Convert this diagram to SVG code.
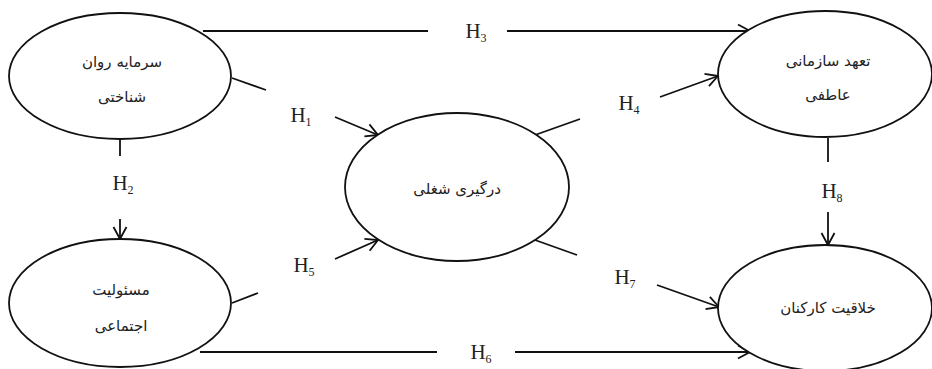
<svg xmlns="http://www.w3.org/2000/svg" width="932" height="369" viewBox="0 0 932 369">
<style>
.node{fill:#fff;stroke:#111;stroke-width:1.8}
.fa{font-family:"DejaVu Sans","Noto Sans",sans-serif;font-size:15px;fill:#222;text-anchor:middle;direction:rtl}
.h{font-family:"Liberation Serif","Times New Roman",serif;font-size:21px;fill:#222;text-anchor:middle}
.sub{font-size:12px}
.c{stroke:#111;stroke-width:1.8;fill:none}
.a{marker-end:url(#arr)}
</style>
<defs>
<marker id="arr" markerUnits="userSpaceOnUse" markerWidth="16" markerHeight="16" refX="13" refY="8" orient="auto">
<path d="M1,1.5 L13,8 L1,14.5" fill="none" stroke="#111" stroke-width="1.8"/>
</marker>
</defs>
<rect width="932" height="369" fill="#fff"/>
<g id="connectors">
<line class="c" x1="203" y1="31" x2="428" y2="31"/>
<line class="c a" x1="507" y1="31" x2="750" y2="31"/>
<line class="c" x1="232" y1="78" x2="266" y2="90"/>
<line class="c a" x1="335" y1="117" x2="378" y2="135"/>
<line class="c" x1="120" y1="140" x2="120" y2="156"/>
<line class="c a" x1="120" y1="219" x2="120" y2="239"/>
<line class="c" x1="535" y1="135" x2="580" y2="119"/>
<line class="c a" x1="660" y1="97" x2="718" y2="76"/>
<line class="c" x1="232" y1="303" x2="258" y2="293"/>
<line class="c a" x1="335" y1="259" x2="378" y2="240"/>
<line class="c" x1="200" y1="352" x2="437" y2="352"/>
<line class="c a" x1="515" y1="352" x2="750" y2="352"/>
<line class="c" x1="535" y1="240" x2="577" y2="255"/>
<line class="c a" x1="657" y1="285" x2="719" y2="307"/>
<line class="c" x1="828" y1="138" x2="828" y2="162"/>
<line class="c a" x1="828" y1="212" x2="828" y2="245"/>
<text class="h" x="476" y="38">H<tspan class="sub" dy="4">3</tspan></text>
<text class="h" x="301" y="122">H<tspan class="sub" dy="4">1</tspan></text>
<text class="h" x="123" y="190">H<tspan class="sub" dy="4">2</tspan></text>
<text class="h" x="629" y="110">H<tspan class="sub" dy="4">4</tspan></text>
<text class="h" x="304" y="272">H<tspan class="sub" dy="4">5</tspan></text>
<text class="h" x="481" y="359">H<tspan class="sub" dy="4">6</tspan></text>
<text class="h" x="625" y="284">H<tspan class="sub" dy="4">7</tspan></text>
<text class="h" x="832" y="198">H<tspan class="sub" dy="4">8</tspan></text>
</g>
<g id="n1">
<ellipse class="node" cx="120" cy="76" rx="111" ry="63"/>
<text class="fa" x="122" y="67">سرمایه روان</text>
<text class="fa" x="122" y="102">شناختی</text>
</g>
<g id="n2">
<ellipse class="node" cx="825" cy="74" rx="107" ry="63"/>
<text class="fa" x="828" y="66">تعهد سازمانی</text>
<text class="fa" x="828" y="100">عاطفی</text>
</g>
<g id="n3">
<ellipse class="node" cx="457" cy="187" rx="112" ry="74"/>
<text class="fa" x="457" y="194">درگیری شغلی</text>
</g>
<g id="n4">
<ellipse class="node" cx="120" cy="303" rx="111" ry="64"/>
<text class="fa" x="121" y="295">مسئولیت</text>
<text class="fa" x="121" y="331">اجتماعی</text>
</g>
<g id="n5">
<ellipse class="node" cx="825" cy="308" rx="107" ry="63"/>
<text class="fa" x="828" y="313">خلاقیت کارکنان</text>
</g>
</svg>
